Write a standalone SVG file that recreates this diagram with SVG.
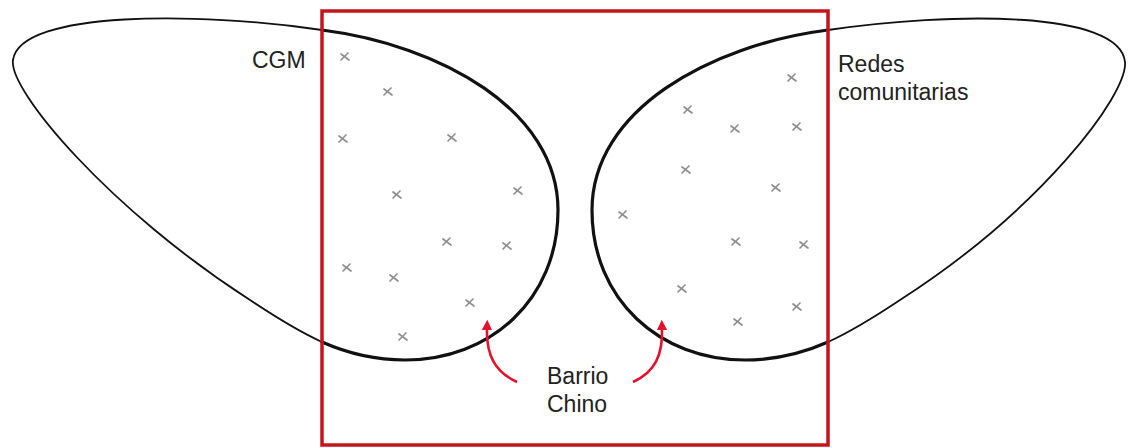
<svg xmlns="http://www.w3.org/2000/svg" width="1130" height="448" viewBox="0 0 1130 448">
  <style>
    .lbl { font-family: "Liberation Sans", Arial, sans-serif; font-size: 23px; fill: #222; }
    .thin { fill: none; stroke: #111; stroke-width: 1.8; stroke-linecap: round; }
    .thick { fill: none; stroke: #111; stroke-width: 3.2; stroke-linecap: round; }
    .frame { fill: none; stroke: #c3161c; stroke-width: 3.5; }
    .arrow { fill: none; stroke: #e3122c; stroke-width: 2.6; marker-end: url(#head); }
    .mk { fill: none; stroke: #8f8f8f; stroke-width: 1.7; stroke-linecap: round; }
  </style>
  <defs>
    <marker id="head" viewBox="0 0 10 10" refX="2" refY="5" markerWidth="4" markerHeight="4" orient="auto" markerUnits="strokeWidth">
      <path d="M0,0 L10,5 L0,10 Z" fill="#e3122c"/>
    </marker>
    <g id="x">
      <path class="mk" d="M-4,-3 Q0,0 4,3 M-4,3 Q0,-1 3,-4"/>
    </g>
  </defs>
  <rect width="1130" height="448" fill="#fff"/>

  <g id="cgm">
    <path class="thin" d="M322,30 C200,12 20,10 13,60 C8,90 110,210 250,300 C277,318 300,332 322,342"/>
    <path class="thick" d="M322,342 C349,354 375,360 405,360 C490,360 558,300 558,210 C558,110 440,45 322,30"/>
    <text class="lbl" x="252" y="68">CGM</text>
    <use href="#x" x="345" y="57"/>
    <use href="#x" x="388" y="92"/>
    <use href="#x" x="343" y="139"/>
    <use href="#x" x="452" y="138"/>
    <use href="#x" x="397" y="195"/>
    <use href="#x" x="518" y="191"/>
    <use href="#x" x="447" y="242"/>
    <use href="#x" x="507" y="246"/>
    <use href="#x" x="347" y="268"/>
    <use href="#x" x="394" y="278"/>
    <use href="#x" x="470" y="303"/>
    <use href="#x" x="403" y="337"/>
  </g>

  <g id="redes">
    <path class="thin" d="M828,30 C950,12 1120,10 1125,62 C1128,95 1040,210 900,300 C873,318 850,332 828,342"/>
    <path class="thick" d="M828,342 C801,354 775,360 745,360 C660,360 592,300 592,210 C592,110 710,45 828,30"/>
    <text class="lbl" x="838" y="72">Redes</text>
    <text class="lbl" x="838" y="100">comunitarias</text>
    <use href="#x" x="792" y="78"/>
    <use href="#x" x="688" y="110"/>
    <use href="#x" x="735" y="129"/>
    <use href="#x" x="797" y="127"/>
    <use href="#x" x="686" y="170"/>
    <use href="#x" x="776" y="188"/>
    <use href="#x" x="623" y="215"/>
    <use href="#x" x="736" y="242"/>
    <use href="#x" x="804" y="245"/>
    <use href="#x" x="682" y="289"/>
    <use href="#x" x="797" y="307"/>
    <use href="#x" x="738" y="322"/>
  </g>

  <g id="barrio-chino">
    <rect class="frame" x="322" y="11" width="506" height="434"/>
    <text class="lbl" x="547" y="384">Barrio</text>
    <text class="lbl" x="547" y="412">Chino</text>
  </g>

  <g id="connectors">
    <path class="arrow" d="M517,382 C495,372 486,355 487,328"/>
    <path class="arrow" d="M633,382 C655,372 663,355 662,328"/>
  </g>
</svg>
